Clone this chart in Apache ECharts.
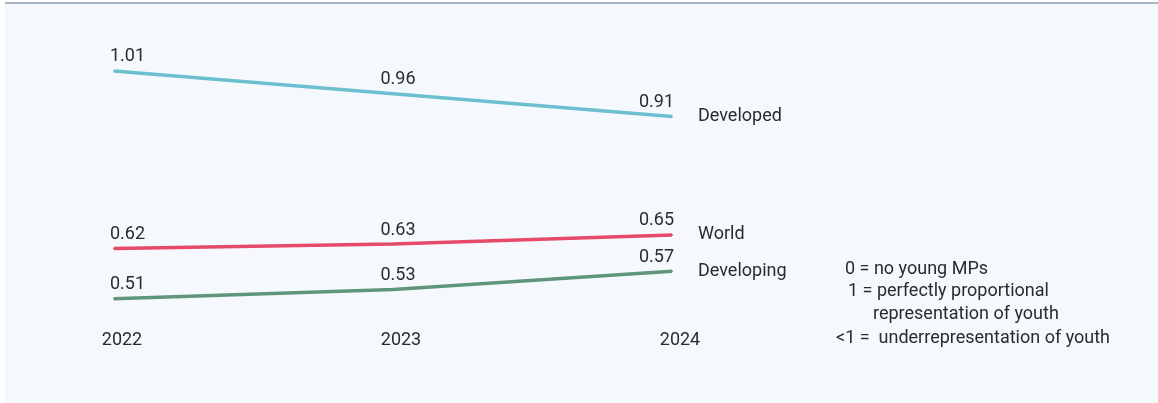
<!DOCTYPE html>
<html>
<head>
<meta charset="utf-8">
<script src="https://cdn.jsdelivr.net/npm/echarts@6/dist/echarts.min.js"></script>
<style>
  html, body { margin: 0; padding: 0; background: #ffffff; }
  #panel {
    position: absolute; left: 5px; top: 2px; right: 0; bottom: 0;
    background: #f5f9fd; border-top: 2px solid #a9b7c4;
  }
  #chart { position: absolute; left: 0; top: 0; width: 1158px; height: 403px; }
</style>
</head>
<body>
<div id="panel"></div>
<div id="chart"></div>
<script>
// Youth representation index by group, 2022–2024
const years = ['2022', '2023', '2024'];
const developed = [1.01, 0.96, 0.91];
const world = [0.62, 0.63, 0.65];
const developing = [0.51, 0.53, 0.57];
const notes = [
  '0 = no young MPs',
  '1 = perfectly proportional',
  'representation of youth',
  '<1 =  underrepresentation of youth'
];

const FONT = 'Roboto';
const SIZE = 18;
const TEXT = '#2b2b2b';

// value labels: first point sits left-aligned, middle centred, last right-aligned
function withLabels(values) {
  const aligns = ['left', 'center', 'right'];
  const shifts = [-4, 5, 2];
  return values.map((v, i) => ({
    value: v,
    label: { align: aligns[i], offset: [shifts[i], 0] }
  }));
}

function lineSeries(name, values, color) {
  return {
    name: name,
    type: 'line',
    data: withLabels(values),
    symbol: 'circle',
    symbolSize: 2,
    showSymbol: true,
    lineStyle: { color: color, width: 3.5 },
    itemStyle: { color: color },
    label: {
      show: true, position: 'top', distance: 4,
      color: TEXT, fontFamily: FONT, fontSize: SIZE,
      formatter: p => p.value.toFixed(2)
    },
    endLabel: {
      show: true, distance: 26,
      color: TEXT, fontFamily: FONT, fontSize: SIZE,
      formatter: p => p.seriesName
    }
  };
}

const noteFont = SIZE + 'px ' + FONT;

const chart = echarts.init(document.getElementById('chart'));
chart.setOption({
  animation: false,
  backgroundColor: 'transparent',
  grid: { left: 114, right: 486, top: 30, bottom: 77 },
  xAxis: {
    type: 'category', data: years, boundaryGap: false,
    axisLine: { show: false }, axisTick: { show: false }, splitLine: { show: false },
    axisLabel: { color: TEXT, fontFamily: FONT, fontSize: SIZE, margin: 5, padding: [0, 0, 0, 16] }
  },
  yAxis: {
    type: 'value', min: 0.45, max: 1.1, show: false
  },
  graphic: [
    { type: 'text', left: 845, top: 260, style: { text: notes[0], fill: TEXT, font: noteFont } },
    { type: 'text', left: 848, top: 282, style: { text: notes[1], fill: TEXT, font: noteFont } },
    { type: 'text', left: 873, top: 305, style: { text: notes[2], fill: TEXT, font: noteFont } },
    { type: 'text', left: 836, top: 329, style: { text: notes[3], fill: TEXT, font: noteFont } }
  ],
  series: [
    lineSeries('Developed', developed, '#6cbfcf'),
    lineSeries('World', world, '#e54a68'),
    lineSeries('Developing', developing, '#5f957a')
  ]
});
</script>
</body>
</html>
